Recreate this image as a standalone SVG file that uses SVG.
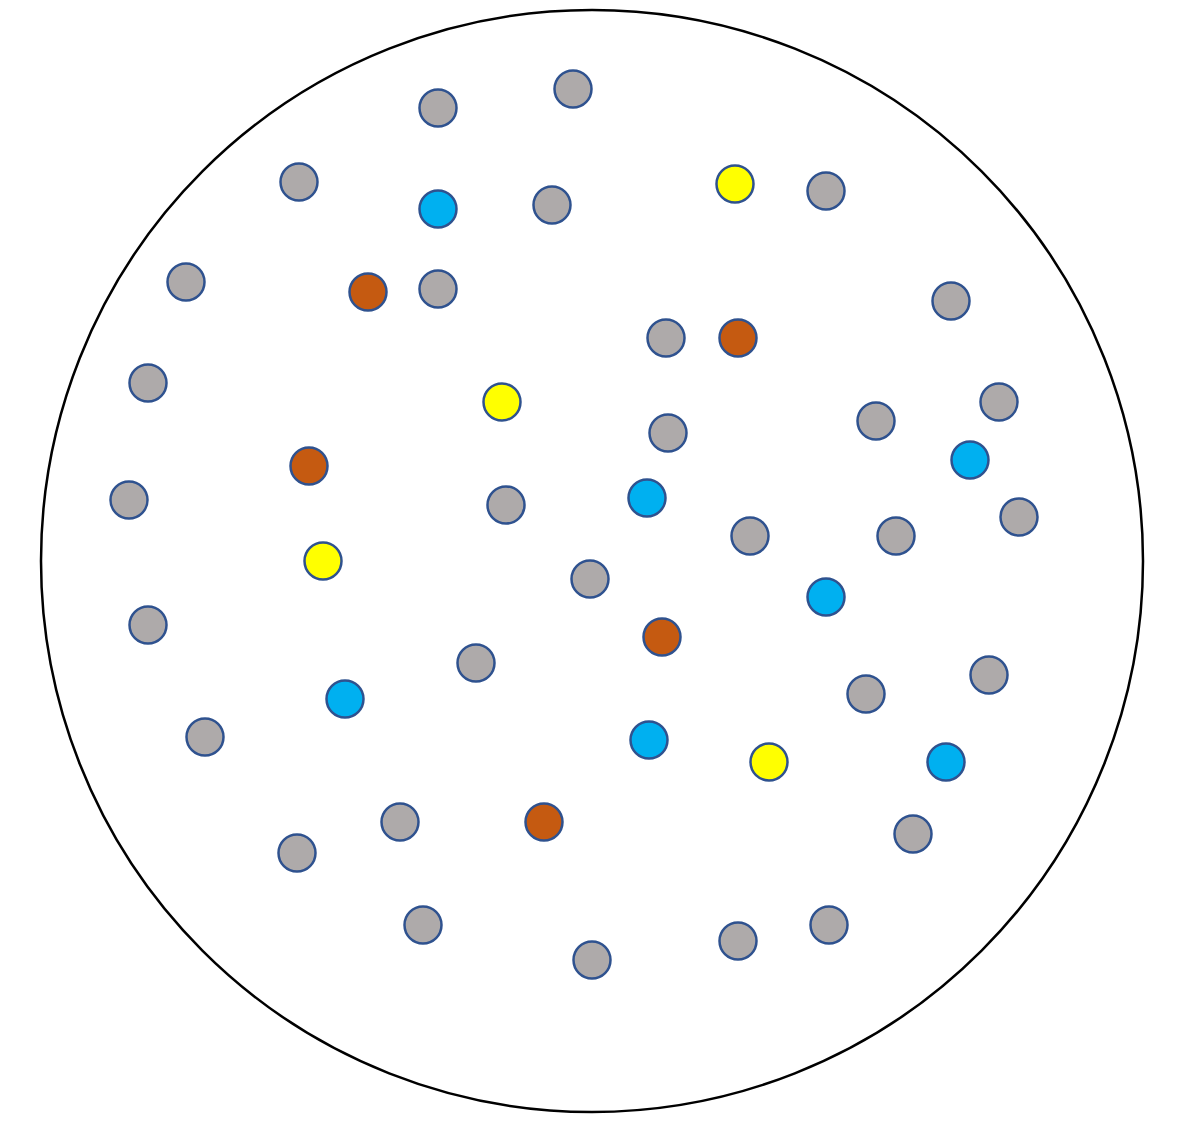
<svg xmlns="http://www.w3.org/2000/svg" width="1178" height="1135" viewBox="0 0 1178 1135">
<style>
.n{stroke:#2F528F;stroke-width:2.5}
.g{fill:#AEAAAA}.b{fill:#00B0F0}.y{fill:#FFFF00}.o{fill:#C55A11}
</style>
<rect width="1178" height="1135" fill="#fff"/>
<ellipse id="boundary" cx="592" cy="561" rx="551" ry="551" fill="none" stroke="#000" stroke-width="2.5"/>
<g id="nodes">
<g id="g1"><circle class="n g" cx="438" cy="108" r="18.5"/></g>
<g id="g2"><circle class="n g" cx="573" cy="89" r="18.5"/></g>
<g id="g3"><circle class="n g" cx="299" cy="182" r="18.5"/></g>
<g id="g4"><circle class="n g" cx="552" cy="205" r="18.5"/></g>
<g id="g5"><circle class="n g" cx="826" cy="191" r="18.5"/></g>
<g id="g6"><circle class="n g" cx="186" cy="282" r="18.5"/></g>
<g id="g7"><circle class="n g" cx="438" cy="289" r="18.5"/></g>
<g id="g8"><circle class="n g" cx="951" cy="301" r="18.5"/></g>
<g id="g9"><circle class="n g" cx="666" cy="338" r="18.5"/></g>
<g id="g10"><circle class="n g" cx="148" cy="383" r="18.5"/></g>
<g id="g11"><circle class="n g" cx="999" cy="402" r="18.5"/></g>
<g id="g12"><circle class="n g" cx="876" cy="421" r="18.5"/></g>
<g id="g13"><circle class="n g" cx="668" cy="433" r="18.5"/></g>
<g id="g14"><circle class="n g" cx="129" cy="500" r="18.5"/></g>
<g id="g15"><circle class="n g" cx="506" cy="505" r="18.5"/></g>
<g id="g16"><circle class="n g" cx="1019" cy="517" r="18.5"/></g>
<g id="g17"><circle class="n g" cx="750" cy="536" r="18.5"/></g>
<g id="g18"><circle class="n g" cx="896" cy="536" r="18.5"/></g>
<g id="g19"><circle class="n g" cx="590" cy="579" r="18.5"/></g>
<g id="g20"><circle class="n g" cx="148" cy="625" r="18.5"/></g>
<g id="g21"><circle class="n g" cx="476" cy="663" r="18.5"/></g>
<g id="g22"><circle class="n g" cx="989" cy="675" r="18.5"/></g>
<g id="g23"><circle class="n g" cx="866" cy="694" r="18.5"/></g>
<g id="g24"><circle class="n g" cx="205" cy="737" r="18.5"/></g>
<g id="g25"><circle class="n g" cx="400" cy="822" r="18.5"/></g>
<g id="g26"><circle class="n g" cx="913" cy="834" r="18.5"/></g>
<g id="g27"><circle class="n g" cx="297" cy="853" r="18.5"/></g>
<g id="g28"><circle class="n g" cx="423" cy="925" r="18.5"/></g>
<g id="g29"><circle class="n g" cx="829" cy="925" r="18.5"/></g>
<g id="g30"><circle class="n g" cx="738" cy="941" r="18.5"/></g>
<g id="g31"><circle class="n g" cx="592" cy="960" r="18.5"/></g>
<g id="b1"><circle class="n b" cx="438" cy="209" r="18.5"/></g>
<g id="b2"><circle class="n b" cx="970" cy="460" r="18.5"/></g>
<g id="b3"><circle class="n b" cx="647" cy="498" r="18.5"/></g>
<g id="b4"><circle class="n b" cx="826" cy="597" r="18.5"/></g>
<g id="b5"><circle class="n b" cx="345" cy="699" r="18.5"/></g>
<g id="b6"><circle class="n b" cx="649" cy="740" r="18.5"/></g>
<g id="b7"><circle class="n b" cx="946" cy="762" r="18.5"/></g>
<g id="y1"><circle class="n y" cx="735" cy="184" r="18.5"/></g>
<g id="y2"><circle class="n y" cx="502" cy="402" r="18.5"/></g>
<g id="y3"><circle class="n y" cx="323" cy="561" r="18.5"/></g>
<g id="y4"><circle class="n y" cx="769" cy="762" r="18.5"/></g>
<g id="o1"><circle class="n o" cx="368" cy="292" r="18.5"/></g>
<g id="o2"><circle class="n o" cx="738" cy="338" r="18.5"/></g>
<g id="o3"><circle class="n o" cx="309" cy="466" r="18.5"/></g>
<g id="o4"><circle class="n o" cx="662" cy="637" r="18.5"/></g>
<g id="o5"><circle class="n o" cx="544" cy="822" r="18.5"/></g>
</g>
<g id="connectors"/>
</svg>
